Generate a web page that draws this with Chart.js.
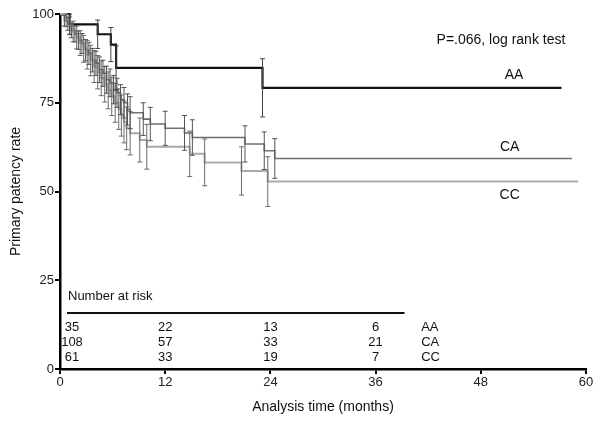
<!DOCTYPE html>
<html>
<head>
<meta charset="utf-8">
<script src="https://cdn.jsdelivr.net/npm/chart.js@4.4.1/dist/chart.umd.min.js"></script>
<style>
  html, body { margin: 0; padding: 0; background: #fff; }
  #wrap { width: 600px; height: 424px; }
</style>
</head>
<body>
<div id="wrap"><canvas id="myChart" width="600" height="424"></canvas></div>
<script>
// Kaplan-Meier steps (months, % patent, error half-width)
var aaTime = [0, 1.1, 4.3, 5.8, 6.4, 23.1, 57.2]
var aaSurv = [100, 97.1, 94.3, 91.4, 84.8, 79.2, 79.2]
var aaErr  = [0, 2.8, 4.0, 4.8, 6.2, 8.2, 0]

var caTime = [0, 0.5, 0.9, 1.3, 1.7, 2.1, 2.5, 2.9, 3.3, 3.7, 4.1, 4.5, 4.9, 5.3, 5.7, 6.1, 6.5, 6.9, 7.3, 7.7, 8.0, 9.5, 10.3, 12.0, 14.2, 15.1, 21.1, 23.3, 24.5, 58.4]
var caSurv = [100, 98.1, 97.2, 95.4, 94.4, 92.6, 91.7, 89.8, 88.9, 87.0, 86.1, 84.3, 83.3, 81.5, 80.6, 78.7, 77.8, 75.9, 75.0, 73.1, 72.2, 70.4, 69.0, 67.8, 66.5, 65.2, 63.4, 61.5, 59.3, 59.3]
var caErr  = [0, 1.5, 1.8, 2.1, 2.3, 2.6, 2.8, 3.0, 3.1, 3.3, 3.4, 3.6, 3.7, 3.8, 3.9, 4.0, 4.1, 4.2, 4.3, 4.4, 4.5, 4.6, 4.7, 4.8, 4.9, 5.0, 5.1, 5.3, 5.6, 0]

var ccTime = [0, 0.7, 1.1, 1.5, 1.9, 2.3, 2.7, 3.1, 3.5, 3.9, 4.3, 4.7, 5.1, 5.5, 5.9, 6.3, 6.7, 7.0, 7.3, 7.6, 8.0, 9.1, 9.9, 14.8, 16.5, 20.7, 23.7, 59.1]
var ccSurv = [100, 98.4, 96.7, 95.1, 93.4, 91.8, 90.2, 88.5, 86.9, 85.2, 83.6, 81.9, 80.2, 78.5, 76.8, 75.0, 73.2, 71.4, 69.6, 67.8, 66.4, 64.5, 62.6, 60.6, 58.2, 55.8, 52.8, 52.8]
var ccErr  = [0, 2.0, 2.5, 2.9, 3.2, 3.5, 3.8, 4.0, 4.3, 4.5, 4.7, 4.9, 5.0, 5.2, 5.4, 5.5, 5.7, 5.8, 5.9, 6.0, 6.1, 6.2, 6.3, 6.4, 6.6, 6.8, 7.0, 0]

// number at risk table
var riskTimes = [0, 12, 24, 36]
var riskGroups = ['AA', 'CA', 'CC']
var riskAA = [35, 22, 13, 6]
var riskCA = [108, 57, 33, 21]
var riskCC = [61, 33, 19, 7]

var xTicks = [0, 12, 24, 36, 48, 60]
var yTicks = [0, 25, 50, 75, 100]

function pts(t, s) {
  return t.map(function (v, i) { return { x: v, y: s[i] } })
}

var FONT = "'Liberation Sans', Arial, Helvetica, sans-serif"

// vertical error bars at each step
var errorBars = {
  id: 'errorBars',
  afterDatasetsDraw: function (chart) {
    var ctx = chart.ctx
    var xs = chart.scales.x, ys = chart.scales.y
    chart.data.datasets.forEach(function (ds) {
      if (!ds.err) return
      ctx.save()
      ctx.strokeStyle = ds.errColor
      ctx.lineWidth = 1
      ds.data.forEach(function (p, i) {
        var e = ds.err[i]
        if (!e) return
        var px = xs.getPixelForValue(p.x)
        var top = ys.getPixelForValue(Math.min(100, p.y + e))
        var bot = ys.getPixelForValue(p.y - e)
        ctx.beginPath()
        ctx.moveTo(px, top); ctx.lineTo(px, bot)
        ctx.moveTo(px - 2.5, top); ctx.lineTo(px + 2.5, top)
        ctx.moveTo(px - 2.5, bot); ctx.lineTo(px + 2.5, bot)
        ctx.stroke()
      })
      ctx.restore()
    })
  }
}

// texts: p value, curve labels, number at risk
var annotations = {
  id: 'annotations',
  afterDraw: function (chart) {
    var ctx = chart.ctx
    var xs = chart.scales.x, ys = chart.scales.y
    var area = chart.chartArea
    ctx.save()
    ctx.fillStyle = '#111'
    ctx.textBaseline = 'middle'
    ctx.font = '14px ' + FONT
    ctx.textAlign = 'center'
    ctx.fillText('P=.066, log rank test', xs.getPixelForValue(50.3), ys.getPixelForValue(92.7))
    ctx.fillText('AA', xs.getPixelForValue(51.8), ys.getPixelForValue(82.8))
    ctx.fillText('CA', xs.getPixelForValue(51.3), ys.getPixelForValue(62.5))
    ctx.fillText('CC', xs.getPixelForValue(51.3), ys.getPixelForValue(49.0))

    ctx.font = '13px ' + FONT
    ctx.textAlign = 'left'
    ctx.fillText('Number at risk', area.left + 8, area.bottom - 73)
    ctx.strokeStyle = '#111'
    ctx.lineWidth = 2
    ctx.beginPath()
    ctx.moveTo(area.left + 7, area.bottom - 56)
    ctx.lineTo(xs.getPixelForValue(39.3), area.bottom - 56)
    ctx.stroke()

    var rows = [riskAA, riskCA, riskCC]
    rows.forEach(function (row, r) {
      var y = area.bottom - 42 + r * 15
      ctx.textAlign = 'center'
      row.forEach(function (n, i) {
        var px = xs.getPixelForValue(riskTimes[i]) + (i === 0 ? 12 : 0)
        ctx.fillText(String(n), px, y)
      })
      ctx.textAlign = 'left'
      ctx.fillText(riskGroups[r], xs.getPixelForValue(41.2), y)
    })
    ctx.restore()
  }
}

var ctx = document.getElementById('myChart')
new Chart(ctx, {
  type: 'line',
  data: {
    datasets: [{
      label: 'CC',
      data: pts(ccTime, ccSurv),
      err: ccErr,
      errColor: '#6a6a6a',
      borderColor: '#a9a9a9',
      borderWidth: 2,
      stepped: true,
      pointRadius: 0,
      clip: 6
    }, {
      label: 'CA',
      data: pts(caTime, caSurv),
      err: caErr,
      errColor: '#555555',
      borderColor: '#707070',
      borderWidth: 1.6,
      stepped: true,
      pointRadius: 0,
      clip: 6
    }, {
      label: 'AA',
      data: pts(aaTime, aaSurv),
      err: aaErr,
      errColor: '#444444',
      borderColor: '#111111',
      borderWidth: 2.2,
      stepped: true,
      pointRadius: 0,
      clip: 6
    }]
  },
  options: {
    responsive: false,
    animation: false,
    layout: { padding: { left: 0, right: 14, top: 14, bottom: 8 } },
    plugins: { legend: { display: false }, tooltip: { enabled: false } },
    scales: {
      x: {
        type: 'linear',
        min: 0, max: 60,
        afterBuildTicks: function (s) { s.ticks = xTicks.map(function (v) { return { value: v } }) },
        afterFit: function (s) { s.height = 47 },
        border: { display: true, color: '#000', width: 2.5 },
        grid: { display: true, drawOnChartArea: false, drawTicks: true, tickLength: 5, color: '#000', lineWidth: 2 },
        ticks: { color: '#222', font: { family: FONT, size: 13 }, padding: 1, maxRotation: 0 },
        title: { display: true, text: 'Analysis time (months)', color: '#111', font: { family: FONT, size: 14 }, padding: 0 }
      },
      y: {
        min: 0, max: 100,
        afterBuildTicks: function (s) { s.ticks = yTicks.map(function (v) { return { value: v } }) },
        afterFit: function (s) { s.width = 60 },
        border: { display: true, color: '#000', width: 2.5 },
        grid: { display: true, drawOnChartArea: false, drawTicks: true, tickLength: 5, color: '#000', lineWidth: 2 },
        ticks: { color: '#222', font: { family: FONT, size: 13 }, padding: 1 },
        title: { display: true, text: 'Primary patency rate', color: '#111', font: { family: FONT, size: 14 }, padding: { top: 8, bottom: 0 } }
      }
    }
  },
  plugins: [errorBars, annotations]
})
</script>
</body>
</html>
